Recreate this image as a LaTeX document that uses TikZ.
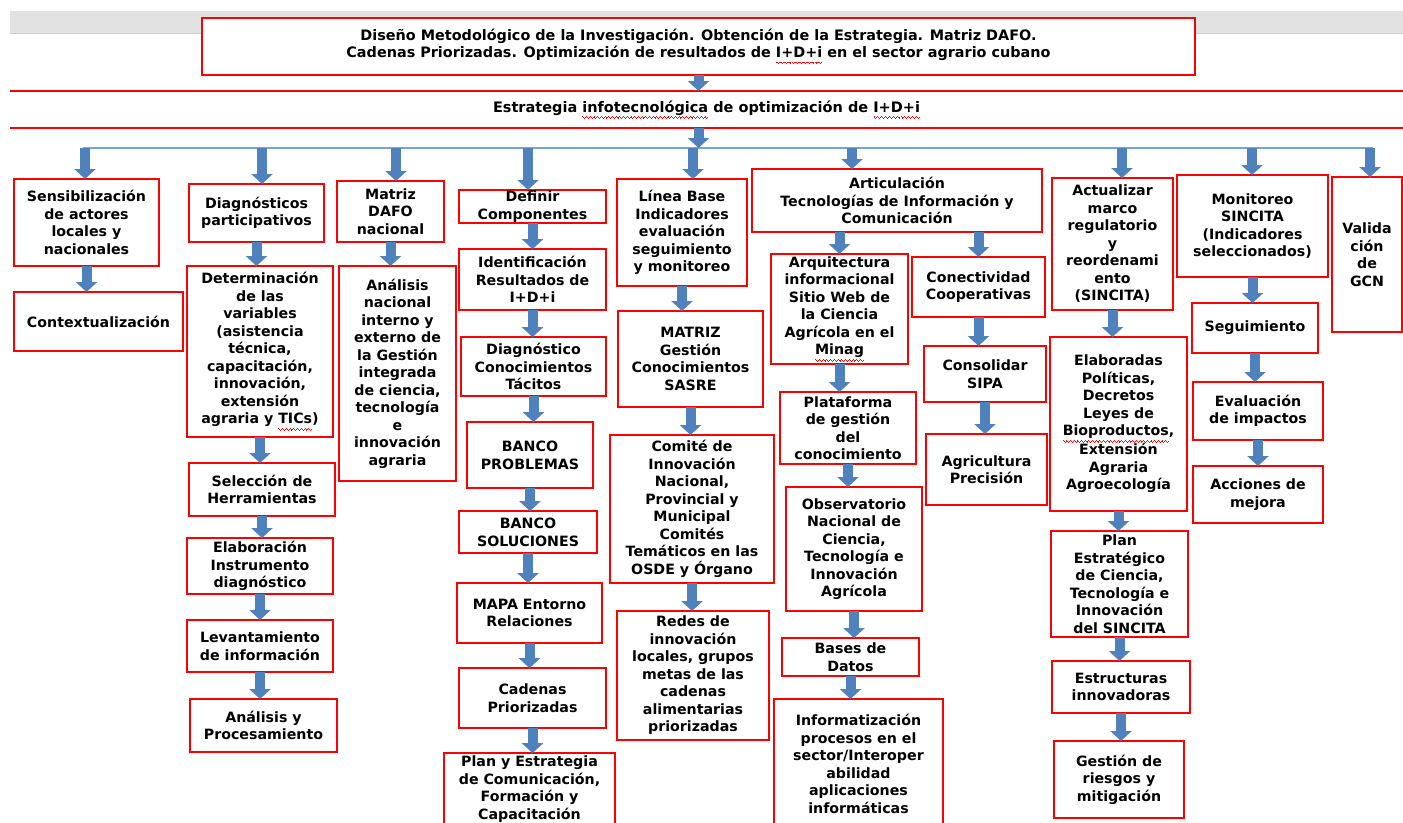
\documentclass[tikz,border=0pt]{standalone}
\usepackage{fontspec}
\usetikzlibrary{arrows.meta, positioning}

\newfontfamily\cajafont{DejaVu Sans}
\definecolor{azul}{RGB}{79,129,189}
\definecolor{azulclaro}{RGB}{120,165,215}
\definecolor{rojo}{RGB}{255,0,0}
\definecolor{gris}{RGB}{226,226,226}
\definecolor{grisosc}{RGB}{205,205,205}

% subrayado ondulado rojo (corrector)
\newcommand\onda{\hbox{\rule[-5pt]{0.9pt}{0.9pt}\rule[-5.8pt]{0.9pt}{0.9pt}\rule[-6.6pt]{0.9pt}{0.9pt}\rule[-5.8pt]{0.9pt}{0.9pt}}}
\newcommand\subr[1]{\setbox0=\hbox{#1}\rlap{\textcolor{rojo}{\hbox to \wd0{\xleaders\onda\hfil}}}\box0\relax}

\begin{document}
\begin{tikzpicture}[
    x=1pt, y=-1pt,
    caja/.style={rectangle, draw=rojo, line width=1.6pt, fill=white, align=center, inner sep=1pt, outer sep=0pt, font=\cajafont\bfseries\fontsize{14.2pt}{17.5pt}\selectfont},
    tam/.style 2 args={minimum width=#1pt, minimum height=#2pt},
    cabecera/.style={caja, font=\cajafont\bfseries\fontsize{14.4pt}{17pt}\selectfont},
    banda/.style={align=center, inner sep=0pt, outer sep=0pt, font=\cajafont\bfseries\fontsize{14.5pt}{17pt}\selectfont},
    borde/.style={draw=rojo, line width=1.6pt},
    flecha/.style={-{Triangle[width=21pt,length=10pt]}, line width=10pt, draw=azul},
    linea/.style={draw=azulclaro, line width=2pt},
]
    \useasboundingbox (0,0) rectangle (1403,822);
    \clip (0,0) rectangle (1403,822);
    \fill[white] (0,0) rectangle (1403,822);

    % Barra gris
    \fill[gris] (10,11) rectangle (1403,33);
    \draw[grisosc, line width=1pt] (10,33) -- (1403,33);

    % Encabezado
    \node[cabecera, tam={993}{57}] (titulo) at (698.5,46.5) {Diseño Metodológico de la Investigación. Obtención de la Estrategia. Matriz DAFO.\\Cadenas Priorizadas. Optimización de resultados de \subr{I+D+i} en el sector agrario cubano};

    % Estrategia
    \node[banda, tam={1393}{37}] (estr) at (706.5,109.5) {Estrategia \subr{infotecnológica} de optimización de \subr{I+D+i}};
    \draw[borde] (estr.north west) -- (estr.north east) (estr.south west) -- (estr.south east);

    % Linea de ramas
    \coordinate (li) at (83,148);
    \coordinate (ld) at (1373,148);
    \coordinate (r1) at (85,148);
    \coordinate (r2) at (262,148);
    \coordinate (r3) at (396,148);
    \coordinate (r4) at (528,148);
    \coordinate (r5) at (693,148);
    \coordinate (r6) at (852,148);
    \coordinate (r7) at (1122,148);
    \coordinate (r8) at (1252,148);
    \coordinate (r9) at (1370,148);

    % Columna 1
    \node[caja, tam={145}{87}] (sens) at (86.5,222.5) {Sensibilización\\de actores\\locales y\\nacionales};
    \node[caja, tam={169}{59}, below=26pt of sens, xshift=12pt] (contx) {Contextualización};

    % Columna 2
    \node[caja, tam={135}{58}] (diagp) at (256.5,213) {Diagnósticos\\participativos};
    \node[caja, tam={146}{171}, below=24pt of diagp, xshift=3.5pt] (determ) {Determinación\\de las\\variables\\(asistencia\\técnica,\\capacitación,\\innovación,\\extensión\\agraria y \subr{TICs})};
    \node[caja, tam={146}{53}, below=26pt of determ, xshift=2pt] (selec) {Selección de\\Herramientas};
    \node[caja, tam={146}{56}, below=22pt of selec, xshift=-2pt] (elab) {Elaboración\\Instrumento\\diagnóstico};
    \node[caja, tam={146}{52}, below=26pt of elab] (levant) {Levantamiento\\de información};
    \node[caja, tam={147}{53}, below=27pt of levant, xshift=3.5pt] (analp) {Análisis y\\Procesamiento};

    % Columna 3
    \node[caja, tam={107}{61}] (dafo) at (390.5,211.5) {Matriz\\DAFO\\nacional};
    \node[caja, tam={117}{215}, below=24pt of dafo, xshift=7pt] (analn) {Análisis\\nacional\\interno y\\externo de\\la Gestión\\integrada\\de ciencia,\\tecnología\\e\\innovación\\agraria};

    % Columna 4
    \node[caja, tam={147}{33}] (defin) at (532.5,206.5) {Definir\\Componentes};
    \node[caja, tam={147}{61}, below=26pt of defin] (ident) {Identificación\\Resultados de\\I+D+i};
    \node[caja, tam={145}{59}, below=27pt of ident, xshift=1pt] (tacit) {Diagnóstico\\Conocimientos\\Tácitos};
    \node[caja, tam={126}{66}, below=26pt of tacit, xshift=-3.5pt] (bprob) {BANCO\\PROBLEMAS};
    \node[caja, tam={138}{42}, below=23pt of bprob, xshift=-2pt] (bsol) {BANCO\\SOLUCIONES};
    \node[caja, tam={145}{60}, below=30pt of bsol, xshift=1.5pt] (mapa) {MAPA Entorno\\Relaciones};
    \node[caja, tam={147}{60}, below=25pt of mapa, xshift=3pt] (caden) {Cadenas\\Priorizadas};
    \node[caja, tam={171}{72}, below=25pt of caden, xshift=-3pt] (plancom) {Plan y Estrategia\\de Comunicación,\\Formación y\\Capacitación};

    % Columna 5
    \node[caja, tam={130}{107}] (lbase) at (682,232.5) {Línea Base\\Indicadores\\evaluación\\seguimiento\\y monitoreo};
    \node[caja, tam={145}{96}, below=25pt of lbase, xshift=8.5pt] (matriz) {MATRIZ\\Gestión\\Conocimientos\\SASRE};
    \node[caja, tam={164}{148}, below=28pt of matriz, xshift=1.5pt] (comite) {Comité de\\Innovación\\Nacional,\\Provincial y\\Municipal\\Comités\\Temáticos en las\\OSDE y Órgano};
    \node[caja, tam={152}{129}, below=28pt of comite, xshift=1pt] (redes) {Redes de\\innovación\\locales, grupos\\metas de las\\cadenas\\alimentarias\\priorizadas};

    % Columna 6
    \node[caja, tam={290}{63}] (artic) at (897,200.5) {Articulación\\Tecnologías de Información y\\Comunicación};
    \node[caja, tam={137}{110}, below=22pt of artic, xshift=-57.5pt] (arqui) {Arquitectura\\informacional\\Sitio Web de\\la Ciencia\\Agrícola en el\\\subr{Minag}};
    \node[caja, tam={136}{72}, below=28pt of arqui, xshift=8.5pt] (plataf) {Plataforma\\de gestión\\del\\conocimiento};
    \node[caja, tam={136}{124}, below=23pt of plataf, xshift=6pt] (observ) {Observatorio\\Nacional de\\Ciencia,\\Tecnología e\\Innovación\\Agrícola};
    \node[caja, tam={137}{38}, below=27pt of observ, xshift=-3.5pt] (bases) {Bases de\\Datos};
    \node[caja, tam={169}{130}, below=23pt of bases, xshift=8pt] (inform) {Informatización\\procesos en el\\sector/Interoper\\abilidad\\aplicaciones\\informáticas};
    \node[caja, tam={133}{60}, below=25pt of artic, xshift=81.5pt] (conec) {Conectividad\\Cooperativas};
    \node[caja, tam={122}{56}, below=29pt of conec, xshift=6.5pt] (sipa) {Consolidar\\SIPA};
    \node[caja, tam={121}{71}, below=32pt of sipa, xshift=1.5pt] (agric) {Agricultura\\Precisión};

    % Columna 7
    \node[caja, tam={121}{132}] (actual) at (1112.5,244) {Actualizar\\marco\\regulatorio\\y\\reordenami\\ento\\(SINCITA)};
    \node[caja, tam={137}{174}, below=27pt of actual, xshift=6pt] (polit) {Elaboradas\\Políticas,\\Decretos\\Leyes de\\\subr{Bioproductos},\\Extensión\\Agraria\\Agroecología};
    \node[caja, tam={137}{106}, below=20pt of polit, xshift=1pt] (plane) {Plan\\Estratégico\\de Ciencia,\\Tecnología e\\Innovación\\del SINCITA};
    \node[caja, tam={138}{52}, below=24pt of plane, xshift=1.5pt] (estru) {Estructuras\\innovadoras};
    \node[caja, tam={130}{77}, below=28pt of estru, xshift=-2pt] (riesg) {Gestión de\\riesgos y\\mitigación};

    % Columna 8
    \node[caja, tam={151}{102}] (monit) at (1252.5,226) {Monitoreo\\SINCITA\\(Indicadores\\seleccionados)};
    \node[caja, tam={126}{50}, below=26pt of monit, xshift=2.5pt] (segui) {Seguimiento};
    \node[caja, tam={130}{58}, below=29pt of segui, xshift=3pt] (evalu) {Evaluación\\de impactos};
    \node[caja, tam={130}{57}, below=26pt of evalu] (accio) {Acciones de\\mejora};

    % Columna 9
    \node[caja, tam={70}{155}] (valid) at (1367,254.5) {Valida\\ción\\de\\GCN};

    % Conexiones
    \draw[flecha] (titulo.south) -- (estr.north -| titulo.south);
    \draw[linea] (li) -- (ld);
    \draw[flecha] (estr.south -| titulo.south) -- (li -| titulo.south);

    \draw[flecha] (r1) -- (r1 |- sens.north);
    \draw[flecha] (r2) -- (r2 |- diagp.north);
    \draw[flecha] (r3) -- (r3 |- dafo.north);
    \draw[flecha] (r4) -- (r4 |- defin.north);
    \draw[flecha] (r5) -- (r5 |- lbase.north);
    \draw[flecha] (r6) -- (r6 |- artic.north);
    \draw[flecha] (r7) -- (r7 |- actual.north);
    \draw[flecha] (r8) -- (r8 |- monit.north);
    \draw[flecha] (r9) -- (r9 |- valid.north);

    \draw[flecha] (sens.south) -- (sens.south |- contx.north);

    \draw[flecha] (diagp.south) -- (diagp.south |- determ.north);
    \draw[flecha] (determ.south) -- (determ.south |- selec.north);
    \draw[flecha] (selec.south) -- (selec.south |- elab.north);
    \draw[flecha] (elab.south) -- (elab.south |- levant.north);
    \draw[flecha] (levant.south) -- (levant.south |- analp.north);

    \draw[flecha] (dafo.south) -- (dafo.south |- analn.north);

    \draw[flecha] (defin.south) -- (defin.south |- ident.north);
    \draw[flecha] (ident.south) -- (ident.south |- tacit.north);
    \draw[flecha] (tacit.south) -- (tacit.south |- bprob.north);
    \draw[flecha] (bprob.south) -- (bprob.south |- bsol.north);
    \draw[flecha] (bsol.south) -- (bsol.south |- mapa.north);
    \draw[flecha] (mapa.south) -- (mapa.south |- caden.north);
    \draw[flecha] (caden.south) -- (caden.south |- plancom.north);

    \draw[flecha] (lbase.south) -- (lbase.south |- matriz.north);
    \draw[flecha] (matriz.south) -- (matriz.south |- comite.north);
    \draw[flecha] (comite.south) -- (comite.south |- redes.north);

    \draw[flecha] (arqui.north |- artic.south) -- (arqui.north);
    \draw[flecha] (conec.north |- artic.south) -- (conec.north);
    \draw[flecha] (arqui.south) -- (arqui.south |- plataf.north);
    \draw[flecha] (plataf.south) -- (plataf.south |- observ.north);
    \draw[flecha] (observ.south) -- (observ.south |- bases.north);
    \draw[flecha] (bases.south) -- (bases.south |- inform.north);
    \draw[flecha] (conec.south) -- (conec.south |- sipa.north);
    \draw[flecha] (sipa.south) -- (sipa.south |- agric.north);

    \draw[flecha] (actual.south) -- (actual.south |- polit.north);
    \draw[flecha] (polit.south) -- (polit.south |- plane.north);
    \draw[flecha] (plane.south) -- (plane.south |- estru.north);
    \draw[flecha] (estru.south) -- (estru.south |- riesg.north);

    \draw[flecha] (monit.south) -- (monit.south |- segui.north);
    \draw[flecha] (segui.south) -- (segui.south |- evalu.north);
    \draw[flecha] (evalu.south) -- (evalu.south |- accio.north);
\end{tikzpicture}
\end{document}
